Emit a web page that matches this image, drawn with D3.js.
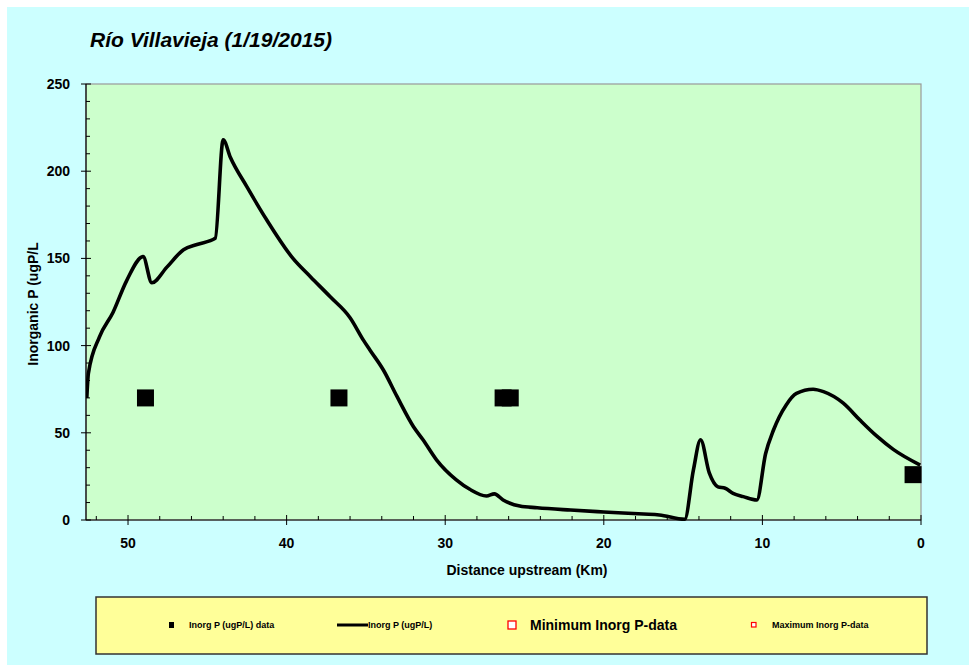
<!DOCTYPE html>
<html>
<head>
<meta charset="utf-8">
<script src="https://cdn.jsdelivr.net/npm/d3@7"></script>
<style>
  html, body { margin: 0; padding: 0; background: #ffffff; }
  svg { display: block; font-family: "Liberation Sans", Arial, sans-serif; }
</style>
</head>
<body>
<svg id="chart" width="969" height="665"></svg>
<script>
// ---- data ----
const titleText = "Río Villavieja (1/19/2015)";
const xTitle = "Distance upstream (Km)";
const yTitle = "Inorganic P (ugP/L";

const lineKm  = [52.6, 52.5, 51.8, 50.95, 50.1, 49.05, 48.5, 47.55, 46.5, 45.65, 44.5, 44.0, 43.55, 42.5, 41.25, 39.6, 38.5, 37.25, 36.0, 35.15, 34.75, 33.9, 33.05, 32.0, 31.4, 30.55, 29.3, 28.45, 27.4, 26.9, 26.35, 25.3, 24.2, 22.1, 20.0, 17.5, 16.5, 14.9, 14.35, 13.9, 13.35, 12.8, 12.35, 11.85, 11.2, 10.35, 9.8, 9.3, 8.5, 7.85, 6.8, 6.15, 4.9, 3.85, 2.8, 1.75, 0.05];
const lineVal = [70, 84, 105, 119, 137, 151, 136, 145, 155, 158, 161.5, 218, 208, 191, 172, 150, 139.5, 128, 116, 103, 97.5, 86, 71, 53.5, 46, 34.5, 23, 17.6, 13.8, 15, 11.5, 8, 7, 5.7, 4.6, 3.4, 2.9, 0.4, 28.7, 46, 27, 19, 18.2, 15.3, 13.4, 11.5, 38, 51.6, 66, 72.6, 75, 73.6, 67, 57.3, 48.2, 40.5, 31.5];

const dataKm  = [48.9, 36.7, 26.35, 25.9, 0.5];
const dataVal = [70, 70, 70, 70, 26];

const xMajorTicks = [50, 40, 30, 20, 10, 0];
const yMajorTicks = [0, 50, 100, 150, 200, 250];

const legendItems = ["Inorg P (ugP/L) data", "Inorg P (ugP/L)", "Minimum Inorg P-data", "Maximum Inorg P-data"];

// ---- layout ----
const svg = d3.select("#chart");
const L = 86, R = 921, T = 84, B = 520;

svg.append("rect").attr("x", 7).attr("y", 7).attr("width", 962).attr("height", 658).attr("fill", "#CCFFFF");

const x = d3.scaleLinear().domain([52.65, 0]).range([L, R]);
const y = d3.scaleLinear().domain([0, 250]).range([B, T]);

// plot area
svg.append("rect").attr("x", L).attr("y", T).attr("width", R - L).attr("height", B - T)
  .attr("fill", "#CCFFCC").attr("stroke", "#999999").attr("stroke-width", 1.2);

// title
svg.append("text").attr("x", 90).attr("y", 47)
  .attr("font-size", 21).attr("font-weight", "bold").attr("font-style", "italic")
  .attr("fill", "#000").text(titleText);

// clip
svg.append("clipPath").attr("id", "clip").append("rect")
  .attr("x", L).attr("y", T - 2).attr("width", R - L + 2).attr("height", B - T + 4);

// line
const lineData = lineKm.map((k, i) => [k, lineVal[i]]);
svg.append("path").datum(lineData)
  .attr("clip-path", "url(#clip)")
  .attr("fill", "none").attr("stroke", "#000").attr("stroke-width", 3.6)
  .attr("stroke-linejoin", "round")
  .attr("d", d3.line().x(d => x(d[0])).y(d => y(d[1])).curve(d3.curveMonotoneX));

// data squares
const sq = 17;
svg.append("g").selectAll("rect").data(dataKm.map((k, i) => [k, dataVal[i]])).join("rect")
  .attr("x", d => x(d[0]) - sq / 2).attr("y", d => y(d[1]) - sq / 2)
  .attr("width", sq).attr("height", sq).attr("fill", "#000");

// axes lines
svg.append("line").attr("x1", L).attr("x2", L).attr("y1", T).attr("y2", B).attr("stroke", "#000").attr("stroke-width", 1.2);
svg.append("line").attr("x1", L).attr("x2", R).attr("y1", B).attr("y2", B).attr("stroke", "#000").attr("stroke-width", 1.2);

// y ticks
const yMinor = d3.range(10, 250, 10).filter(v => v % 50 !== 0);
svg.append("g").selectAll("line.ymaj").data(yMajorTicks).join("line")
  .attr("x1", L - 5).attr("x2", L + 5).attr("y1", d => y(d)).attr("y2", d => y(d))
  .attr("stroke", "#000").attr("stroke-width", 1);
svg.append("g").selectAll("line.ymin").data(yMinor).join("line")
  .attr("x1", L).attr("x2", L + 4).attr("y1", d => y(d)).attr("y2", d => y(d))
  .attr("stroke", "#000").attr("stroke-width", 1);
svg.append("g").selectAll("text").data(yMajorTicks).join("text")
  .attr("x", 70).attr("y", d => y(d)).attr("dy", "0.36em")
  .attr("text-anchor", "end").attr("font-size", 14).attr("font-weight", "bold")
  .text(d => d);

// x ticks
const xMinor = d3.range(2, 53, 2).filter(v => v % 10 !== 0);
svg.append("g").selectAll("line").data(xMajorTicks).join("line")
  .attr("x1", d => x(d)).attr("x2", d => x(d)).attr("y1", B - 5).attr("y2", B + 5)
  .attr("stroke", "#000").attr("stroke-width", 1);
svg.append("g").selectAll("line").data(xMinor).join("line")
  .attr("x1", d => x(d)).attr("x2", d => x(d)).attr("y1", B - 4).attr("y2", B)
  .attr("stroke", "#000").attr("stroke-width", 1);
svg.append("g").selectAll("text").data(xMajorTicks).join("text")
  .attr("x", d => x(d)).attr("y", 548)
  .attr("text-anchor", "middle").attr("font-size", 14).attr("font-weight", "bold")
  .text(d => d);

// axis titles
svg.append("text").attr("x", 527).attr("y", 575).attr("text-anchor", "middle")
  .attr("font-size", 14).attr("font-weight", "bold").text(xTitle);
svg.append("text").attr("transform", "translate(38,304) rotate(-90)").attr("text-anchor", "middle")
  .attr("font-size", 14).attr("font-weight", "bold").text(yTitle);

// legend
svg.append("rect").attr("x", 96).attr("y", 597).attr("width", 831).attr("height", 57)
  .attr("fill", "#FFFF99").attr("stroke", "#333333").attr("stroke-width", 1.5);
const ly = 625;
svg.append("rect").attr("x", 169).attr("y", ly - 3).attr("width", 5).attr("height", 6).attr("fill", "#000");
svg.append("text").attr("x", 189).attr("y", ly + 3).attr("font-size", 9).attr("font-weight", "bold").text(legendItems[0]);
svg.append("line").attr("x1", 337).attr("x2", 368).attr("y1", ly).attr("y2", ly).attr("stroke", "#000").attr("stroke-width", 3);
svg.append("text").attr("x", 368).attr("y", ly + 3).attr("font-size", 9).attr("font-weight", "bold").text(legendItems[1]);
svg.append("rect").attr("x", 508).attr("y", ly - 4).attr("width", 8).attr("height", 8)
  .attr("fill", "#fff").attr("stroke", "#FF0000").attr("stroke-width", 1.3);
svg.append("text").attr("x", 530).attr("y", ly + 5).attr("font-size", 14).attr("font-weight", "bold").text(legendItems[2]);
svg.append("rect").attr("x", 751.5).attr("y", ly - 2.5).attr("width", 4.5).attr("height", 4.5)
  .attr("fill", "#fff").attr("stroke", "#FF0000").attr("stroke-width", 1.2);
svg.append("text").attr("x", 772).attr("y", ly + 3).attr("font-size", 9).attr("font-weight", "bold").text(legendItems[3]);
</script>
</body>
</html>
